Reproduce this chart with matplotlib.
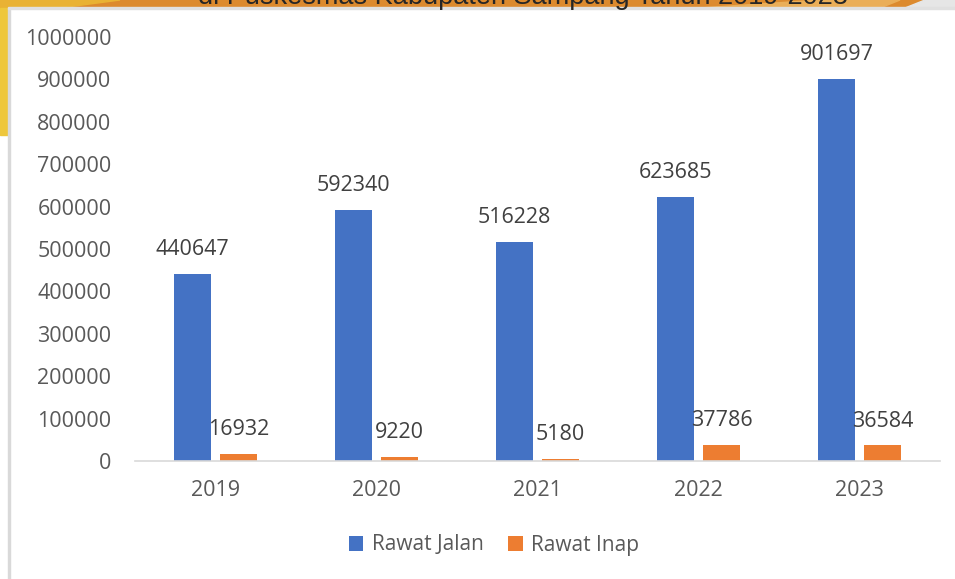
import matplotlib
matplotlib.use("Agg")
import matplotlib.pyplot as plt
import numpy as np
from matplotlib.patches import Rectangle, Polygon

years = ["2019", "2020", "2021", "2022", "2023"]
rawat_jalan = [440647, 592340, 516228, 623685, 901697]
rawat_inap = [16932, 9220, 5180, 37786, 36584]
yticks = [0, 100000, 200000, 300000, 400000, 500000, 600000, 700000, 800000, 900000, 1000000]

BLUE = "#4472C4"
ORANGE = "#ED7D31"
GREY = "#595959"

plt.rcParams["font.family"] = ["Open Sans", "DejaVu Sans"]

W, H = 955, 579
fig = plt.figure(figsize=(W / 100, H / 100), dpi=100)


def fx(px):
    return px / W


def fy(py):
    return 1 - py / H


# slide decoration behind the chart (cropped screenshot edges)
fig.patches.append(Rectangle((0, fy(8)), 1, 8 / H, transform=fig.transFigure,
                             color="#DC8A2E", zorder=0))
fig.patches.append(Polygon([(fx(0), fy(8)), (fx(0), 1), (fx(120), 1), (fx(60), fy(8))],
                           closed=True, transform=fig.transFigure, color="#E9B234", zorder=0))
fig.patches.append(Polygon([(fx(700), fy(8)), (fx(820), 1), (fx(900), 1), (fx(880), fy(8))],
                           closed=True, transform=fig.transFigure, color="#EAAE58", zorder=0))
fig.patches.append(Polygon([(fx(905), fy(8)), (fx(925), 1), (fx(955), 1), (fx(955), fy(8))],
                           closed=True, transform=fig.transFigure, color="#E6E6E6", zorder=0))
fig.patches.append(Rectangle((0, fy(135)), fx(8), 127 / H, transform=fig.transFigure,
                             color="#EEC73C", zorder=0))
fig.patches.append(Rectangle((fx(8), 0), fx(2), fy(8), transform=fig.transFigure,
                             color="#D9D9D9", zorder=1))
fig.patches.append(Rectangle((fx(8), fy(9)), 1, 1.5 / H, transform=fig.transFigure,
                             color="#E0E0E0", zorder=1))
fig.text(0.548, fy(3.5), "di Puskesmas Kabupaten Sampang Tahun 2019-2023",
         ha="center", va="baseline", fontsize=19.5, color="#262626",
         family=["Liberation Sans", "DejaVu Sans"])

ax = fig.add_axes([fx(135), fy(461), fx(940) - fx(135), fy(37) - fy(461)])
ax.set_facecolor("none")

x = np.arange(len(years))
w = 0.224
off = 0.143
b1 = ax.bar(x - off, rawat_jalan, w, color=BLUE, label="Rawat Jalan", zorder=2)
b2 = ax.bar(x + off, rawat_inap, w, color=ORANGE, label="Rawat Inap", zorder=2)

for rects, vals in ((b1, rawat_jalan), (b2, rawat_inap)):
    for r, v in zip(rects, vals):
        ax.annotate(str(v), (r.get_x() + r.get_width() / 2, v), xytext=(0, 10),
                    textcoords="offset points", ha="center", va="bottom",
                    fontsize=15.5, color="#404040")

ax.set_xlim(-0.5, len(years) - 0.5)
ax.set_ylim(0, 1000000)
ax.set_xticks(x)
ax.set_xticklabels(years)
ax.set_yticks(yticks)
ax.set_yticklabels([str(t) for t in yticks])
ax.tick_params(axis="both", length=0, labelsize=15.5, labelcolor=GREY)
ax.tick_params(axis="x", pad=14)
ax.tick_params(axis="y", pad=17)
for s in ("top", "right", "left"):
    ax.spines[s].set_visible(False)
ax.spines["bottom"].set_color("#D9D9D9")
ax.spines["bottom"].set_linewidth(1.2)

fig.legend(handles=[b1, b2], loc="center", bbox_to_anchor=(fx(494), fy(545)),
           ncol=2, frameon=False, fontsize=15, labelcolor=GREY,
           handlelength=0.7, handleheight=0.7, handletextpad=0.4, columnspacing=1.2)

fig.savefig("out.png", dpi=100)
